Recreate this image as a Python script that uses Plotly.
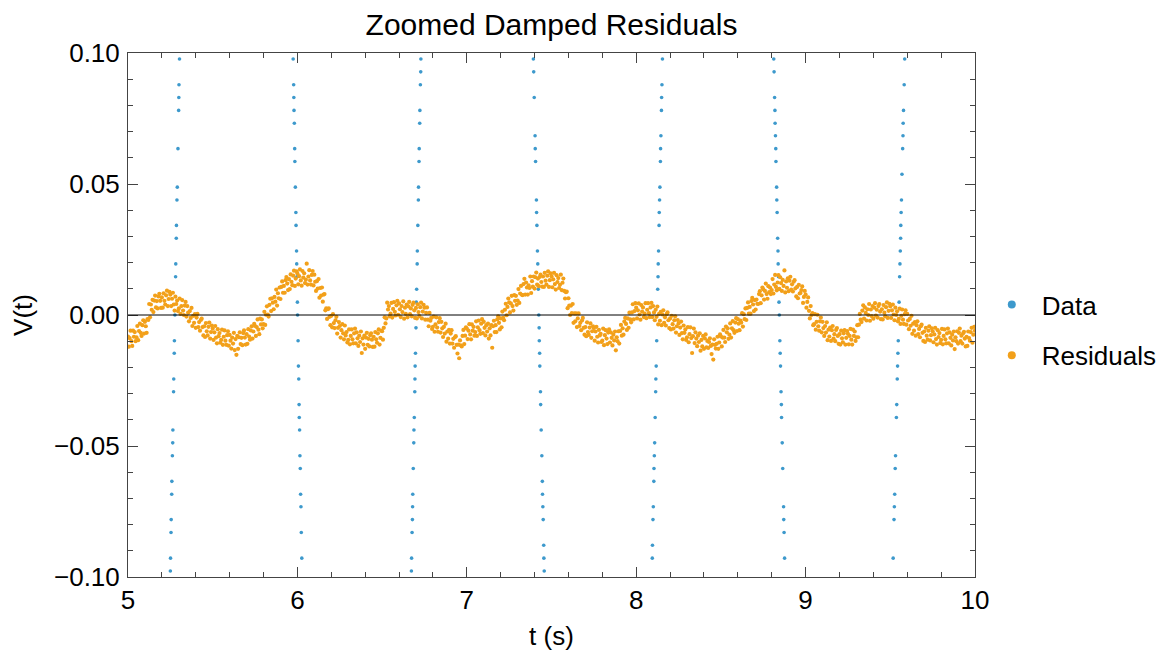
import plotly.graph_objects as go

# ---------------- Data (blue): samples inside the zoom window, t in s, V in mV
data_t = [
    5.304, 5.301, 5.300, 5.299, 5.295, 5.291, 5.289, 5.286, 5.285, 5.282, 5.281, 5.277, 5.274,
    5.273, 5.270, 5.269, 5.265, 5.264, 5.262, 5.259, 5.258, 5.255, 5.254, 5.251, 5.250,
    5.975, 5.978, 5.979, 5.980, 5.982, 5.984, 5.985, 5.988, 5.991, 5.992, 5.995, 5.996, 5.997,
    6.000, 6.001, 6.004, 6.006, 6.008, 6.010, 6.011, 6.013, 6.015, 6.017, 6.019, 6.021, 6.023, 6.026,
    6.729, 6.728, 6.726, 6.723, 6.722, 6.719, 6.718, 6.715, 6.714, 6.711, 6.708, 6.707, 6.704,
    6.702, 6.700, 6.697, 6.695, 6.694, 6.693, 6.690, 6.688, 6.687, 6.684, 6.681, 6.680, 6.679,
    6.677, 6.674, 6.673,
    7.393, 7.395, 7.398, 7.403, 7.404, 7.406, 7.411, 7.412, 7.414, 7.417, 7.419, 7.422, 7.425,
    7.427, 7.428, 7.430, 7.431, 7.435, 7.436, 7.439, 7.443, 7.446, 7.447, 7.449, 7.451, 7.454,
    7.455, 7.457,
    8.155, 8.152, 8.150, 8.149, 8.146, 8.144, 8.143, 8.140, 8.138, 8.136, 8.135, 8.132, 8.130,
    8.129, 8.127, 8.121, 8.118, 8.116, 8.115, 8.112, 8.109, 8.107, 8.105, 8.104, 8.101, 8.099,
    8.096, 8.095,
    8.812, 8.814, 8.817, 8.819, 8.820, 8.822, 8.824, 8.825, 8.829, 8.830, 8.832, 8.835, 8.837,
    8.838, 8.840, 8.842, 8.843, 8.845, 8.848, 8.850, 8.852, 8.855, 8.857, 8.858, 8.862, 8.865,
    8.870, 8.871, 8.873, 8.876,
    9.585, 9.582, 9.578, 9.576, 9.575, 9.573, 9.569, 9.566, 9.564, 9.562, 9.561, 9.559, 9.557,
    9.555, 9.552, 9.547, 9.545, 9.543, 9.541, 9.538, 9.536, 9.531, 9.529, 9.526, 9.524, 9.522,
    9.517,
]
data_mv = [
    97.7, 87.9, 83.0, 78.1, 63.5, 48.8, 43.9, 34.2, 29.3, 19.5, 14.6, 0.0, -9.8,
    -14.6, -24.4, -29.3, -43.9, -48.8, -53.7, -63.5, -68.4, -78.1, -83.0, -92.8, -97.7,
    97.7, 87.9, 83.0, 78.1, 73.2, 63.5, 58.6, 48.8, 39.1, 34.2, 24.4, 19.5, 14.6,
    4.9, 0.0, -9.8, -19.5, -24.4, -34.2, -39.1, -43.9, -53.7, -58.6, -68.4, -73.2, -83.0, -92.8,
    97.7, 92.8, 87.9, 78.1, 73.2, 63.5, 58.6, 48.8, 43.9, 34.2, 24.4, 19.5, 9.8,
    4.9, -4.9, -14.6, -19.5, -24.4, -29.3, -39.1, -43.9, -48.8, -58.6, -68.4, -73.2, -78.1,
    -83.0, -92.8, -97.7,
    97.7, 92.8, 83.0, 68.4, 63.5, 58.6, 43.9, 39.1, 34.2, 24.4, 19.5, 9.8, 0.0,
    -4.9, -9.8, -14.6, -19.5, -29.3, -34.2, -43.9, -53.7, -63.5, -68.4, -73.2, -78.1, -87.9,
    -92.8, -97.7,
    97.7, 87.9, 83.0, 78.1, 68.4, 63.5, 58.6, 48.8, 43.9, 39.1, 34.2, 24.4, 19.5,
    14.6, 9.8, -9.8, -19.5, -24.4, -29.3, -39.1, -48.8, -53.7, -58.6, -63.5, -73.2, -78.1,
    -87.9, -92.8,
    97.7, 92.8, 83.0, 78.1, 73.2, 68.4, 63.5, 58.6, 48.8, 43.9, 39.1, 29.3, 24.4,
    19.5, 14.6, 9.8, 4.9, 0.0, -9.8, -14.6, -19.5, -29.3, -34.2, -39.1, -48.8, -58.6,
    -73.2, -78.1, -83.0, -92.8,
    97.7, 87.9, 78.1, 73.2, 68.4, 63.5, 53.7, 43.9, 39.1, 34.2, 29.3, 24.4, 19.5,
    14.6, 4.9, -9.8, -14.6, -19.5, -24.4, -34.2, -39.1, -53.7, -58.6, -68.4, -73.2, -78.1,
    -92.8,
]

# ---------------- Residuals (orange): uniform sampling from t=5 s, V in mV
res_t0 = 5.0
res_dt = 0.005
residuals_mv = [
    -8.2, -12.1, -8.8, -6.0, -10.0, -11.8, -6.0, -8.3, -6.5, -10.0,
    -8.5, -4.2, -9.6, -6.1, -3.3, -6.8, -8.0, -3.9, -2.0, -7.1,
    -2.6, -4.3, -6.8, -1.6, -1.9, 4.2, -0.9, 4.0, 2.0, 5.8,
    1.1, 5.5, 7.4, 2.9, 5.3, 2.5, 7.1, 8.1, 5.4, 2.7,
    6.7, 2.8, 8.3, 5.4, 4.0, 7.5, 9.3, 3.4, 6.1, 8.8,
    7.8, 3.4, 6.2, 8.5, 4.0, 1.7, 7.0, 4.2, 5.5, 1.5,
    2.5, 6.3, 0.4, 3.4, 5.7, 1.7, 0.0, 3.6, 5.0, -0.6,
    3.4, 0.9, -2.4, 1.5, -1.1, 2.7, -4.2, -0.3, -3.0, 0.3,
    -4.9, -1.0, 0.4, -4.6, -2.7, -6.0, -1.9, -1.4, -4.6, -7.8,
    -4.3, -8.4, -3.1, -6.2, -7.8, -4.5, -2.9, -9.0, -6.5, -4.0,
    -5.2, -9.5, -6.6, -4.2, -8.6, -10.8, -5.4, -8.1, -6.9, -10.6,
    -9.5, -5.6, -11.4, -8.3, -5.9, -9.8, -11.4, -7.7, -6.2, -11.7,
    -7.6, -9.8, -12.8, -8.6, -10.9, -6.8, -13.4, -9.2, -15.2, -8.0,
    -12.9, -8.5, -6.6, -11.1, -8.7, -11.5, -6.9, -5.9, -8.6, -11.3,
    -7.3, -11.0, -5.4, -8.2, -9.4, -5.9, -4.3, -9.0, -6.3, -3.4,
    -4.2, -8.0, -4.6, -1.7, -5.6, -7.3, -1.4, -3.6, -1.7, -5.1,
    -3.5, 1.2, -3.8, 0.1, 3.3, 0.2, -0.6, 3.9, 6.2, 1.5,
    6.4, 4.7, 2.2, 6.9, 5.1, 9.7, 3.6, 8.3, 6.4, 10.5,
    6.1, 10.7, 12.8, 8.5, 11.1, 8.5, 13.3, 14.5, 12.0, 9.5,
    13.7, 9.9, 15.5, 12.7, 11.4, 15.0, 16.9, 11.1, 13.9, 16.7,
    15.8, 11.7, 14.8, 17.4, 13.2, 11.2, 16.8, 14.3, 15.9, 12.2,
    13.5, 19.6, 11.6, 14.7, 17.1, 13.2, 11.6, 15.3, 16.8, 11.3,
    15.4, 12.7, 9.2, 12.9, 10.1, 13.7, 6.6, 10.3, 7.4, 10.5,
    5.1, 7.8, 8.0, 1.8, 2.5, -1.5, 2.2, 2.5, -0.7, -3.9,
    -0.3, -4.7, 0.3, -3.1, -5.0, -2.0, -0.7, -7.1, -4.9, -2.7,
    -4.2, -8.6, -5.8, -3.5, -7.0, -9.3, -4.0, -7.8, -6.5, -10.5,
    -9.5, -5.5, -11.2, -8.0, -5.5, -9.3, -10.8, -7.0, -5.2, -10.8,
    -6.6, -8.9, -11.8, -7.9, -10.3, -6.3, -14.5, -8.9, -11.3, -7.9,
    -12.9, -8.6, -6.8, -11.4, -9.1, -12.0, -7.7, -7.0, -9.4, -12.2,
    -8.3, -12.1, -6.5, -9.3, -10.6, -7.0, -5.5, -11.3, -8.7, -6.0,
    -6.2, -9.4, -4.9, -0.9, -3.2, -1.3, 4.7, 2.1, 3.4, -0.5,
    0.5, 4.6, -1.0, 2.3, 4.9, 1.2, -0.2, 3.7, 5.4, 0.1,
    4.4, 2.2, -0.8, 3.4, 1.1, 5.2, -1.4, 2.8, 0.4, 4.0,
    -0.9, 3.3, 5.0, 0.3, 2.5, -0.5, 3.9, 4.7, 1.8, -1.1,
    2.7, -1.3, 4.1, 1.1, -0.4, 3.0, 4.7, -1.3, 1.3, 3.9,
    2.8, -1.8, 0.8, 2.9, -1.8, -4.3, 0.8, -2.2, -1.1, -5.3,
    -4.5, -0.6, -6.4, -3.6, -0.9, -4.8, -6.4, -2.7, -1.2, -6.7,
    -2.6, -5.1, -8.4, -4.5, -7.1, -3.3, -10.2, -6.3, -9.0, -5.7,
    -10.9, -7.1, -5.8, -10.9, -9.1, -12.5, -8.5, -8.1, -11.4, -14.7,
    -11.3, -16.5, -9.7, -11.6, -12.0, -8.0, -5.7, -11.1, -7.9, -4.7,
    -5.2, -9.2, -6.0, -3.5, -7.4, -9.3, -3.6, -6.0, -4.5, -7.9,
    -6.5, -2.4, -8.0, -4.7, -2.1, -5.8, -7.2, -3.3, -1.6, -6.9,
    -2.6, -4.9, -7.8, -3.9, -6.3, -3.3, -9.0, -5.1, -7.8, -3.9,
    -12.5, -4.3, -2.2, -6.5, -3.9, -6.5, -1.7, -0.5, -3.0, -5.5,
    -1.3, -4.7, 1.3, -1.1, -2.0, 2.0, 4.3, -0.1, 3.1, 6.3,
    4.8, 1.0, 4.4, 7.3, 3.4, 1.7, 7.6, 5.4, 7.3, 3.9,
    5.5, 9.9, 4.6, 8.2, 11.1, 7.7, 7.6, 11.8, 13.8, 7.8,
    12.4, 10.5, 7.8, 11.3, 10.3, 14.7, 8.4, 12.9, 10.8, 14.7,
    10.1, 14.4, 16.2, 11.6, 13.9, 11.0, 14.5, 15.4, 12.6, 10.8,
    14.7, 10.7, 16.1, 13.1, 11.6, 15.0, 16.7, 10.7, 13.3, 15.9,
    14.8, 10.6, 13.6, 16.1, 11.8, 9.7, 15.2, 12.6, 14.1, 10.3,
    11.5, 15.4, 9.5, 12.3, 13.9, 9.2, 6.3, 8.7, 8.9, 2.6,
    6.4, 3.6, 0.0, 3.6, 0.7, 4.2, -3.0, 0.6, -2.4, 0.6,
    -4.6, -1.3, 0.6, -4.2, -3.0, -5.8, -2.1, -1.1, -4.9, -7.5,
    -4.6, -8.1, -2.8, -6.5, -7.6, -4.8, -3.2, -8.7, -6.2, -4.3,
    -5.0, -9.8, -6.3, -4.5, -8.3, -10.5, -5.7, -7.8, -7.2, -10.3,
    -9.8, -5.2, -11.5, -7.7, -5.8, -9.0, -11.1, -6.7, -5.5, -10.5,
    -6.6, -8.7, -11.6, -7.5, -9.7, -6.3, -13.5, -8.5, -10.0, -6.2,
    -10.9, -6.1, -3.8, -7.9, -5.1, -7.5, -2.5, -1.1, -3.4, -5.7,
    -1.3, -4.9, 0.9, -1.7, -2.8, 1.0, 4.1, -1.7, 1.5, 4.5,
    2.8, -1.3, 1.8, 4.4, 0.2, -1.8, 3.8, 1.3, 2.9, -0.8,
    0.5, 4.5, -1.2, 2.0, 4.5, 0.7, -0.8, 2.9, 4.6, -0.8,
    3.4, 1.0, -2.0, 2.0, -0.7, 3.2, -3.6, 0.4, -2.2, 1.2,
    -3.9, 0.2, 1.8, -3.0, -0.9, -4.0, 0.3, 1.0, -2.0, -5.0,
    -1.3, -5.5, -0.3, -3.5, -5.2, -2.0, -0.5, -6.7, -4.3, -1.9,
    -3.2, -7.6, -4.8, -2.5, -6.9, -9.3, -4.0, -6.8, -5.5, -9.5,
    -8.5, -4.6, -10.4, -7.3, -4.7, -8.8, -14.5, -8.1, -5.2, -10.7,
    -6.6, -9.0, -11.9, -7.9, -10.3, -7.0, -13.6, -9.5, -12.0, -8.0,
    -12.9, -8.9, -7.4, -12.3, -9.9, -12.6, -10.3, -8.9, -11.8, -14.9,
    -11.3, -17.0, -9.3, -11.4, -12.8, -11.0, -8.3, -12.9, -10.5, -7.4,
    -8.2, -12.0, -8.6, -5.7, -8.6, -10.3, -4.4, -6.6, -5.1, -9.1,
    -7.5, -3.2, -8.6, -5.1, -2.3, -5.8, -6.8, -2.9, -1.2, -6.1,
    -1.6, -3.3, -5.8, -2.1, -2.9, 0.7, -4.4, 0.3, -1.6, 2.5,
    -1.9, 2.7, 4.8, 0.5, 3.1, 0.5, 5.3, 6.5, 4.0, 1.5,
    5.7, 2.1, 5.9, 4.3, 4.2, 8.0, 9.1, 4.5, 7.5, 10.5,
    9.8, 5.9, 9.2, 12.0, 8.0, 6.2, 11.0, 8.7, 10.5, 8.0,
    9.5, 13.7, 8.2, 11.6, 15.3, 10.7, 9.4, 12.4, 15.2, 10.0,
    14.4, 12.2, 9.2, 13.4, 11.1, 17.0, 8.6, 12.8, 10.4, 14.0,
    9.1, 13.1, 14.6, 9.7, 11.7, 9.0, 12.7, 13.3, 10.2, 7.1,
    10.7, 6.4, 11.5, 8.2, 8.4, 9.5, 10.9, 4.6, 6.9, 9.2,
    7.8, 2.8, 5.0, 6.7, 1.6, -1.3, 3.4, 0.0, 0.7, -3.9,
    -3.5, 0.3, -5.6, -2.6, 0.1, -4.3, -6.0, -2.4, -1.0, -6.6,
    -2.6, -5.0, -8.0, -4.2, -6.7, -2.8, -9.6, -5.6, -8.2, -4.8,
    -9.9, -5.8, -4.2, -9.0, -7.3, -10.0, -5.7, -5.0, -8.0, -11.0,
    -7.3, -11.3, -6.0, -8.9, -10.4, -7.0, -5.8, -11.3, -8.7, -6.1,
    -7.2, -11.2, -8.0, -5.3, -9.4, -11.3, -5.6, -8.0, -6.3, -9.9,
    -8.5, -3.9, -8.5, -3.7, 0.4, -1.8, -2.7, 1.7, 3.7, -1.4,
    2.9, 0.8, -2.1, 2.2, 0.0, 4.2, -2.2, 2.1, -0.4, 3.4,
    -1.4, 2.8, 4.5, -0.2, 2.0, -1.0, 3.4, 4.2, 1.3, -1.6,
    2.2, -1.7, 3.8, 0.9, -0.5, 3.0, 4.8, -1.1, 1.6, 4.3,
    3.3, -1.1, 1.8, 4.0, 0.2, -2.0, 2.8, 0.0, 1.4, -2.4,
    -1.5, 2.4, -3.4, -0.3, 2.1, -1.8, -3.4, 0.3, 1.8, -3.7,
    0.4, -2.1, -5.4, -1.5, -4.1, -0.3, -7.2, -3.3, -6.0, -2.7,
    -7.9, -3.9, -2.4, -7.3, -5.3, -8.5, -4.3, -3.7, -6.8, -9.9,
    -6.3, -10.3, -4.9, -7.9, -9.4, -6.0, -4.3, -9.7, -7.7, -5.1,
    -6.2, -10.4, -7.4, -4.9, -9.2, -11.3, -5.8, -8.4, -6.9, -10.7,
    -9.5, -5.3, -11.2, -8.0, -5.5, -9.3, -10.8, -7.0, -5.2, -10.8,
    -6.6, -8.7, -11.6, -7.5, -9.7, -6.3, -13.0, -8.5, -10.0, -6.2,
    -10.9, -6.8, -5.2, -10.0, -7.9, -10.9, -7.0, -6.4, -9.0, -12.0,
    -8.3, -11.8, -6.3, -8.8, -9.8, -6.5, -4.9, -10.6, -7.5, -4.5,
    -6.0,
]

x_ticks = [5, 6, 7, 8, 9, 10]
y_ticks = [-0.10, -0.05, 0.00, 0.05, 0.10]
title_text = "Zoomed Damped Residuals"
x_label = "t (s)"
y_label = "V(t)"
series_names = ["Data", "Residuals"]

BLUE = "#3D99CC"
ORANGE = "#F2A01A"
FONT = "Liberation Sans, Arial, sans-serif"
FRAME = "#444444"
FS = 26

res_t = [round(res_t0 + i * res_dt, 4) for i in range(len(residuals_mv))]
res_v = [v / 1000.0 for v in residuals_mv]
data_v = [v / 1000.0 for v in data_mv]

fig = go.Figure()
fig.add_trace(go.Scatter(x=data_t, y=data_v, mode="markers", name=series_names[0],
                         marker=dict(color=BLUE, size=3.6, line=dict(width=0)),
                         showlegend=False))
fig.add_trace(go.Scatter(x=res_t, y=res_v, mode="markers", name=series_names[1],
                         marker=dict(color=ORANGE, size=4.2, line=dict(width=0)),
                         showlegend=False))
# legend entries
fig.add_trace(go.Scatter(x=[None], y=[None], mode="markers", name=series_names[0],
                         marker=dict(color=BLUE, size=8), legendgroup="a"))
fig.add_trace(go.Scatter(x=[None], y=[None], mode="markers", name=series_names[1],
                         marker=dict(color=ORANGE, size=8), legendgroup="b"))

# zero axis line drawn over the points
fig.add_shape(type="line", xref="paper", yref="y", x0=0, x1=1, y0=0, y1=0,
              line=dict(color="black", width=1), layer="above")

axis_common = dict(
    showline=True, linecolor=FRAME, linewidth=1, mirror="ticks",
    ticks="inside", ticklen=10, tickwidth=1, tickcolor=FRAME,
    showgrid=False, zeroline=False, automargin=False,
    tickfont=dict(family=FONT, size=FS, color="black"),
)

fig.update_xaxes(
    range=[5, 10], tickvals=x_ticks, ticktext=[str(v) for v in x_ticks],
    minor=dict(dtick=0.2, ticks="inside", ticklen=5, tickcolor=FRAME, showgrid=False),
    title=dict(text=x_label, font=dict(family=FONT, size=FS, color="black"), standoff=12),
    ticklabelstandoff=0,
    **axis_common,
)
fig.update_yaxes(
    range=[-0.1, 0.1], tickvals=y_ticks, tickformat=".2f",
    minor=dict(dtick=0.01, ticks="inside", ticklen=5, tickcolor=FRAME, showgrid=False),
    title=dict(text=y_label, font=dict(family=FONT, size=FS, color="black"), standoff=14),
    ticklabelstandoff=2,
    **axis_common,
)

# the page body adds an 8 px offset, so the figure is 8 px smaller than the window
fig.update_layout(
    width=1160, height=650,
    margin=dict(l=120, r=193, t=45, b=81, autoexpand=False),
    paper_bgcolor="white", plot_bgcolor="white",
    title=dict(text=title_text, xref="paper", x=0.5, xanchor="center",
               y=1 - 16 / 650, yanchor="middle",
               font=dict(family=FONT, size=30, color="black")),
    legend=dict(x=1.008, xanchor="left", y=0.4714, yanchor="middle",
                font=dict(family=FONT, size=FS, color="black"),
                tracegroupgap=14, bgcolor="rgba(0,0,0,0)", itemwidth=50),
    showlegend=True,
)

fig.write_html("out.html")
